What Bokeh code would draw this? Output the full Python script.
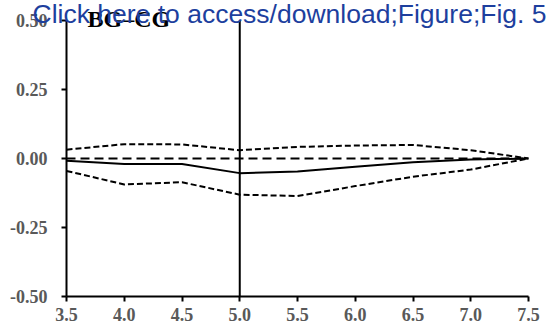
from bokeh.plotting import figure
from bokeh.models import Range1d, FixedTicker, Label, NumeralTickFormatter
from bokeh.embed import file_html
from bokeh.resources import INLINE

# horizon values and impulse response with its confidence band
horizon = [3.5, 4.0, 4.5, 5.0, 5.5, 6.0, 6.5, 7.0, 7.5]
response = [-0.008, -0.02, -0.02, -0.053, -0.047, -0.03, -0.014, -0.004, 0.0]
upper_band = [0.032, 0.052, 0.051, 0.03, 0.042, 0.047, 0.049, 0.03, 0.0]
lower_band = [-0.045, -0.094, -0.086, -0.131, -0.136, -0.1, -0.066, -0.04, 0.0]
zero_line = [0.0] * len(horizon)
marker_x = 5.0

x_ticks = [3.5, 4.0, 4.5, 5.0, 5.5, 6.0, 6.5, 7.0, 7.5]
y_ticks = [-0.5, -0.25, 0.0, 0.25, 0.5]
panel_title = "BG\u2013CG"
link_text = "Click here to access/download;Figure;Fig. 5"

W, H = 547, 329
# plot box inside the canvas (pixels): left, right, top, bottom
box_l, box_r, box_t, box_b = 66, 528, 20, 296
x0, x1 = x_ticks[0], x_ticks[-1]
y0, y1 = y_ticks[0], y_ticks[-1]
sx = (box_r - box_l) / (x1 - x0)
sy = (box_b - box_t) / (y1 - y0)

# the frame fills the whole canvas; axes are pinned at the data edges
p = figure(width=W, height=H, output_backend="svg", toolbar_location=None,
           x_range=Range1d(x0 - box_l / sx, x1 + (W - box_r) / sx),
           y_range=Range1d(y0 - (H - box_b) / sy, y1 + box_t / sy),
           min_border=0)
p.outline_line_color = None
p.grid.visible = False
p.background_fill_color = "white"
p.border_fill_color = "white"

tick_font = "Liberation Serif"
for ax in (p.xaxis[0], p.yaxis[0]):
    ax.axis_line_width = 2
    ax.axis_line_color = "black"
    ax.major_tick_line_width = 2
    ax.major_tick_line_color = "black"
    ax.major_tick_out = 5
    ax.major_tick_in = 0
    ax.minor_tick_line_color = None
    ax.major_label_text_font = tick_font
    ax.major_label_text_font_style = "bold"
    ax.major_label_text_font_size = "18px"
    ax.major_label_text_color = "#595959"

p.xaxis.ticker = FixedTicker(ticks=x_ticks)
p.xaxis.formatter = NumeralTickFormatter(format="0.0")
p.xaxis.bounds = (x0, x1)
p.xaxis.fixed_location = y0
p.xaxis.major_label_standoff = 6
p.yaxis.ticker = FixedTicker(ticks=y_ticks)
p.yaxis.formatter = NumeralTickFormatter(format="0.00")
p.yaxis.bounds = (y0, y1)
p.yaxis.fixed_location = x0
p.yaxis.major_label_standoff = 14

# vertical marker at horizon 5.0
p.segment(x0=[marker_x], y0=[y0], x1=[marker_x], y1=[y1], line_color="black", line_width=2)

p.line(horizon, zero_line, line_color="black", line_width=2, line_dash="9 5")
p.line(horizon, upper_band, line_color="black", line_width=2, line_dash="6 3")
p.line(horizon, lower_band, line_color="black", line_width=2, line_dash="6 3")
p.line(horizon, response, line_color="black", line_width=2)

# screen offsets are measured from the frame's lower-left corner (= canvas corner)
p.add_layout(Label(x=87, y=H - 18, x_units="screen", y_units="screen",
                   text=panel_title, text_font=tick_font, text_font_style="bold",
                   text_font_size="24px", text_color="black",
                   text_baseline="alphabetic"))

p.add_layout(Label(x=32, y=H - 13, x_units="screen", y_units="screen",
                   text=link_text, text_font="Liberation Sans",
                   text_font_size="26.5px", text_color="#1d3f9e",
                   text_baseline="alphabetic"))

open("out.html", "w").write(file_html(p, INLINE))
